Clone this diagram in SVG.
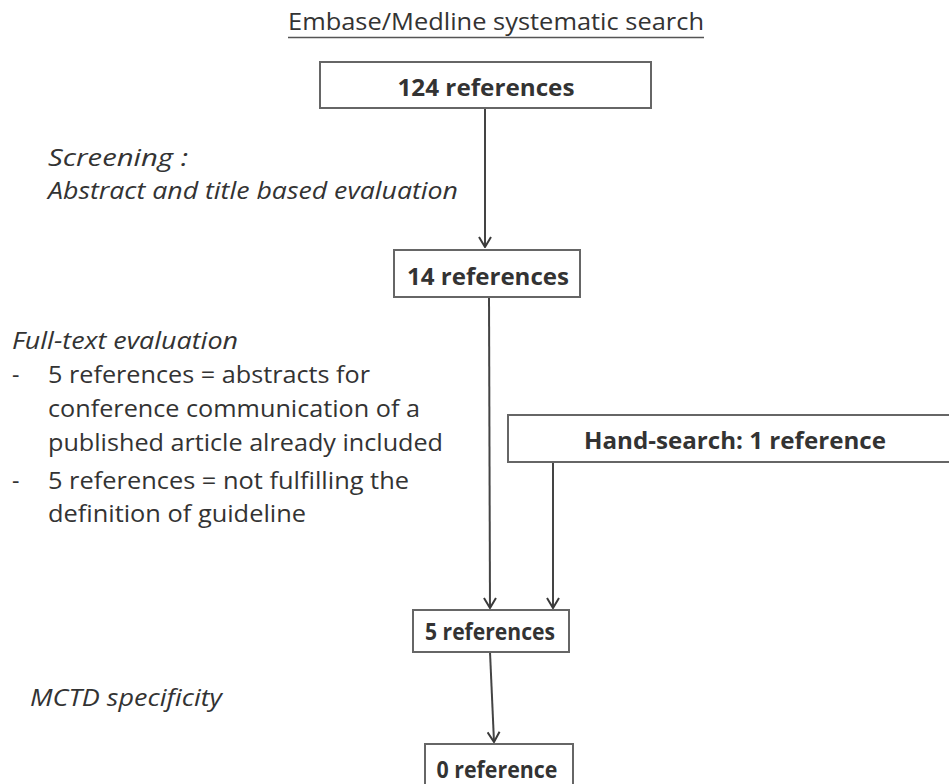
<svg xmlns="http://www.w3.org/2000/svg" width="949" height="784" viewBox="0 0 949 784">
<defs>
<marker id="arr" viewBox="0 0 12 14" refX="11" refY="7" markerWidth="12" markerHeight="14" markerUnits="userSpaceOnUse" orient="auto">
<path d="M1,1 L11,7 L1,13" fill="none" stroke="#3a3a3a" stroke-width="2"/>
</marker>
</defs>
<style>
text{font-family:"Open Sans","Liberation Sans",sans-serif;fill:#333;}
.b{font-weight:bold;font-size:23.5px;}
.n{font-size:23px;}
.i{font-size:23px;font-style:italic;}
.box{fill:#fff;stroke:#666;stroke-width:2;}
.ln{stroke:#444;stroke-width:2;fill:none;marker-end:url(#arr);}
</style>
<rect width="949" height="784" fill="#fff"/>
<g id="title">
<text class="n" x="496" y="30" text-anchor="middle" textLength="416" lengthAdjust="spacingAndGlyphs">Embase/Medline systematic search</text>
<line x1="288" y1="37.5" x2="704" y2="37.5" stroke="#555" stroke-width="1.5"/>
</g>
<g id="connectors">
<line class="ln" x1="485" y1="108" x2="485" y2="247"/>
<line class="ln" x1="489" y1="297" x2="490" y2="608"/>
<line class="ln" x1="553" y1="462" x2="553" y2="608"/>
<line class="ln" x1="490" y1="652" x2="494" y2="742"/>
</g>
<g id="n124">
<rect class="box" x="320" y="62" width="331" height="46"/>
<text class="b" x="486" y="96" text-anchor="middle" textLength="177" lengthAdjust="spacingAndGlyphs">124 references</text>
</g>
<g id="n14">
<rect class="box" x="394" y="250" width="186" height="47"/>
<text class="b" x="488" y="285" text-anchor="middle" textLength="162" lengthAdjust="spacingAndGlyphs">14 references</text>
</g>
<g id="hand">
<rect class="box" x="508" y="415" width="450" height="47"/>
<text class="b" x="735" y="449" text-anchor="middle" textLength="302" lengthAdjust="spacingAndGlyphs">Hand-search: 1 reference</text>
</g>
<g id="n5">
<rect class="box" x="413" y="610" width="156" height="42"/>
<text class="b" x="490" y="640" text-anchor="middle" textLength="130" lengthAdjust="spacingAndGlyphs">5 references</text>
</g>
<g id="n0">
<rect class="box" x="425" y="744" width="148" height="46"/>
<text class="b" x="497" y="778" text-anchor="middle" textLength="121" lengthAdjust="spacingAndGlyphs">0 reference</text>
</g>
<g id="screening">
<text class="i" x="48" y="166" textLength="140" lengthAdjust="spacingAndGlyphs">Screening :</text>
<text class="i" x="48" y="199" textLength="410" lengthAdjust="spacingAndGlyphs">Abstract and title based evaluation</text>
</g>
<g id="fulltext">
<text class="i" x="12" y="349" textLength="226" lengthAdjust="spacingAndGlyphs">Full-text evaluation</text>
<text class="n" x="12" y="383">-</text>
<text class="n" x="48" y="383" textLength="322" lengthAdjust="spacingAndGlyphs">5 references = abstracts for</text>
<text class="n" x="48" y="417" textLength="372" lengthAdjust="spacingAndGlyphs">conference communication of a</text>
<text class="n" x="48" y="451" textLength="395" lengthAdjust="spacingAndGlyphs">published article already included</text>
<text class="n" x="12" y="489">-</text>
<text class="n" x="48" y="489" textLength="361" lengthAdjust="spacingAndGlyphs">5 references = not fulfilling the</text>
<text class="n" x="48" y="522" textLength="258" lengthAdjust="spacingAndGlyphs">definition of guideline</text>
</g>
<g id="mctd">
<text class="i" x="30" y="706" textLength="192" lengthAdjust="spacingAndGlyphs">MCTD specificity</text>
</g>
</svg>
